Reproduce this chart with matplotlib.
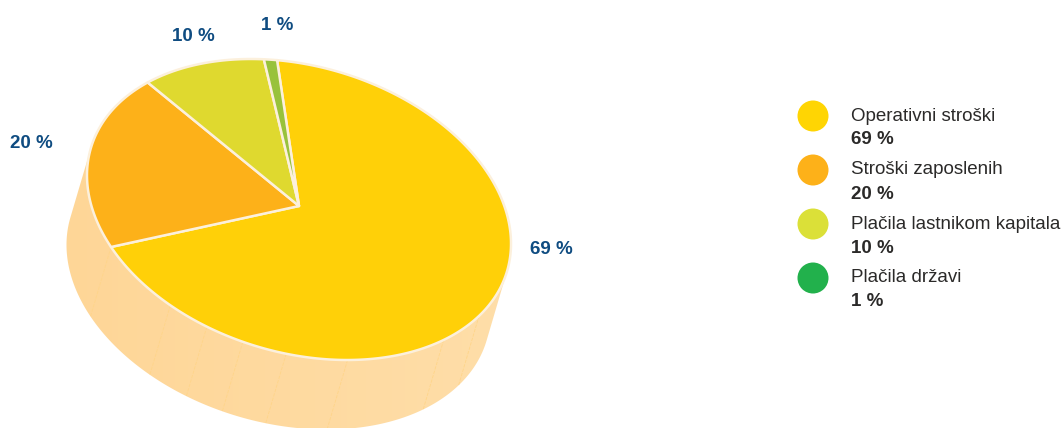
import numpy as np
import matplotlib
matplotlib.use("Agg")
import matplotlib.pyplot as plt
from matplotlib.colors import LinearSegmentedColormap
from matplotlib.patches import Circle, Polygon

plt.rcParams["font.family"] = ["Liberation Sans", "DejaVu Sans"]

# Shares of the pie, clockwise from the top
names = ["Operativni stroški", "Stroški zaposlenih", "Plačila lastnikom kapitala", "Plačila državi"]
values = [69, 20, 10, 1]
slice_colors = ["#FFD008", "#FDB119", "#DFD92F", "#98C23B"]
legend_colors = ["#FFD503", "#FDB119", "#DBE038", "#22B14C"]

# Where the pie labels sit
label_x = [551, 31, 193, 277]
label_y = [249, 144, 36, 25]

# Seams on the side wall, angle on the disc in degrees
seam_angles = [20.8, 35.9, 65.7, 82.4, 94.3, 104.7, 116.3, 141.4]

# Tilted disc: centre, semi axes and rotation, all in pixels
cx, cy = 299, 209.5
apex = (299, 206)
semi_a, semi_b = 217, 143.2
tilt = np.radians(16.5)
depth = np.array([-20.5, 69.5])
start_angle = -107

TEXT_BLUE = "#0F4C81"
TEXT_DARK = "#2B2A29"
RIM = "#FCF0DC"
SEAM = "#FFD58A"


def disc_point(deg):
    # Point on the rim of the tilted disc
    t = np.radians(deg)
    x = semi_a * np.cos(t)
    y = semi_b * np.sin(t)
    return np.column_stack([cx + x * np.cos(tilt) - y * np.sin(tilt),
                            cy + x * np.sin(tilt) + y * np.cos(tilt)])


fig = plt.figure(figsize=(10.61, 4.28), dpi=100)
ax = fig.add_axes([0, 0, 1, 1])

# Side wall: the lower rim swept along the depth vector, shaded left to right
ex = (depth[0] * np.cos(tilt) + depth[1] * np.sin(tilt)) / semi_a
ey = (-depth[0] * np.sin(tilt) + depth[1] * np.cos(tilt)) / semi_b
mid = np.degrees(np.arctan2(ey, ex))
rim = disc_point(np.linspace(mid - 90, mid + 90, 240))
wall = Polygon(np.vstack([rim, rim[::-1] + depth]), closed=True, fc="none", ec="none")
ax.add_patch(wall)
wall_cmap = LinearSegmentedColormap.from_list("wall", ["#FED697", "#FFDEA9"])
shade = ax.imshow(np.linspace(0, 1, 256).reshape(1, -1), cmap=wall_cmap, aspect="auto",
                  extent=(60, 520, 440, 150), zorder=1)
shade.set_clip_path(wall)

ax.set_xlim(0, 1061)
ax.set_ylim(428, 0)
ax.axis("off")

for a in seam_angles:
    p = disc_point(np.array([a]))[0]
    ax.plot([p[0], p[0] + depth[0]], [p[1], p[1] + depth[1]], color=SEAM, lw=0.6, ls=(0, (4, 1.5)), zorder=2)

# Top of the pie
angle = start_angle
for v, c in zip(values, slice_colors):
    sweep = v / sum(values) * 360
    arc = disc_point(np.linspace(angle, angle + sweep, max(int(sweep * 2), 4)))
    ax.add_patch(Polygon(np.vstack([apex, arc]), closed=True, fc=c, ec=RIM, lw=1.8, joinstyle="round", zorder=3))
    angle += sweep

for v, x, y in zip(values, label_x, label_y):
    ax.text(x, y, "{} %".format(v), color=TEXT_BLUE, fontsize=13.5, fontweight="bold", ha="center", va="center")

# Legend
for i, (n, v, c) in enumerate(zip(names, values, legend_colors)):
    y = 116 + 54 * i
    ax.add_patch(Circle((813, y), 15.5, fc=c, ec="none"))
    ax.text(851, y, n, color=TEXT_DARK, fontsize=13.5, ha="left", va="center")
    ax.text(851, y + 24, "{} %".format(v), color=TEXT_DARK, fontsize=13.5, fontweight="bold", ha="left", va="center")

fig.savefig("out.png", dpi=100)
